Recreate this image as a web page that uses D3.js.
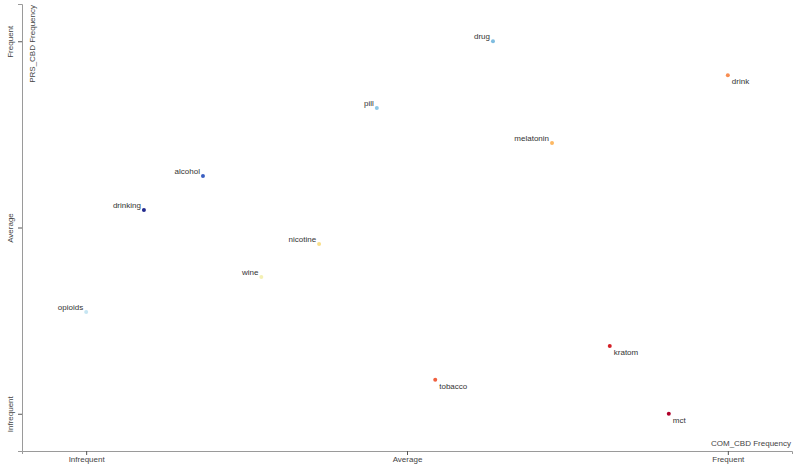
<!DOCTYPE html>
<html>
<head>
<meta charset="utf-8">
<script src="https://cdn.jsdelivr.net/npm/d3@7"></script>
<style>
  html, body { margin: 0; padding: 0; background: #fff; }
  svg { display: block; font-family: "Liberation Sans", Arial, Helvetica, sans-serif; }
</style>
</head>
<body>
<svg id="chart" width="800" height="466"></svg>
<script>
// ---- data ----
const terms = ["drug", "drink", "pill", "melatonin", "alcohol", "drinking", "nicotine", "wine", "opioids", "kratom", "tobacco", "mct"];
const comFreq = [0.634, 1.0, 0.453, 0.726, 0.182, 0.090, 0.363, 0.273, 0.0, 0.816, 0.544, 0.908];
const prsFreq = [1.0, 0.909, 0.821, 0.727, 0.638, 0.547, 0.456, 0.367, 0.273, 0.182, 0.091, 0.0];
const termColors = ["#7fbde0", "#f88d52", "#8ec8e6", "#fdb863", "#3a5fc2", "#222a8e", "#f9e08c", "#f4f0b4", "#c6e5f2", "#d42027", "#f0603f", "#b0002a"];
const tickValues = [0, 0.5, 1];
const tickLabels = ["Infrequent", "Average", "Frequent"];
const xTitle = "COM_CBD Frequency";
const yTitle = "PRS_CBD Frequency";

const data = terms.map((t, i) => ({ term: t, x: comFreq[i], y: prsFreq[i], color: termColors[i] }));

// ---- layout ----
const W = 800, H = 466;
const margin = { left: 22, top: 4, right: 8, bottom: 15 };
const svg = d3.select("#chart");

const x = d3.scaleLinear().domain([-0.1, 1.1]).range([margin.left, W - margin.right]);
const y = d3.scaleLinear().domain([-0.1, 1.1]).range([H - margin.bottom, margin.top]);

const axisColor = "#9a9a9a";
const textColor = "#444";

// x axis
const gx = svg.append("g")
  .attr("transform", `translate(0,${H - margin.bottom})`)
  .call(d3.axisBottom(x).tickValues(tickValues).tickFormat((d, i) => tickLabels[i]).tickSizeInner(4).tickSizeOuter(3).tickPadding(1));
gx.select(".domain").attr("stroke", axisColor);
gx.selectAll(".tick line").attr("stroke", "#555");
gx.selectAll(".tick text").attr("fill", textColor).style("font-size", "8px");

// y axis
const gy = svg.append("g")
  .attr("transform", `translate(${margin.left},0)`)
  .call(d3.axisLeft(y).tickValues(tickValues).tickFormat((d, i) => tickLabels[i]).tickSizeInner(4).tickSizeOuter(4));
gy.select(".domain").attr("stroke", axisColor);
gy.selectAll(".tick line").attr("stroke", "#555");
gy.selectAll(".tick text")
  .attr("fill", textColor)
  .style("font-size", "8px")
  .attr("x", null).attr("dy", null)
  .attr("text-anchor", "middle")
  .attr("transform", "translate(-9,0) rotate(-90)");

// axis titles
svg.append("text")
  .attr("x", W - margin.right - 1)
  .attr("y", H - margin.bottom - 5)
  .attr("text-anchor", "end")
  .attr("fill", textColor)
  .style("font-size", "8px")
  .text(xTitle);

svg.append("text")
  .attr("transform", `translate(${margin.left + 13},${margin.top + 1}) rotate(-90)`)
  .attr("text-anchor", "end")
  .attr("fill", textColor)
  .style("font-size", "8px")
  .text(yTitle);

// points
const g = svg.append("g");
g.selectAll("circle").data(data).join("circle")
  .attr("cx", d => x(d.x))
  .attr("cy", d => y(d.y))
  .attr("r", 2)
  .attr("fill", d => d.color);

// labels: right-below when term leans to COM side, otherwise left-above
g.selectAll("text").data(data).join("text")
  .attr("x", d => d.x > d.y ? x(d.x) + 4 : x(d.x) - 3)
  .attr("y", d => d.x > d.y ? y(d.y) + 9 : y(d.y) - 2)
  .attr("text-anchor", d => d.x > d.y ? "start" : "end")
  .attr("fill", "#333")
  .style("font-size", "8px")
  .text(d => d.term);
</script>
</body>
</html>
